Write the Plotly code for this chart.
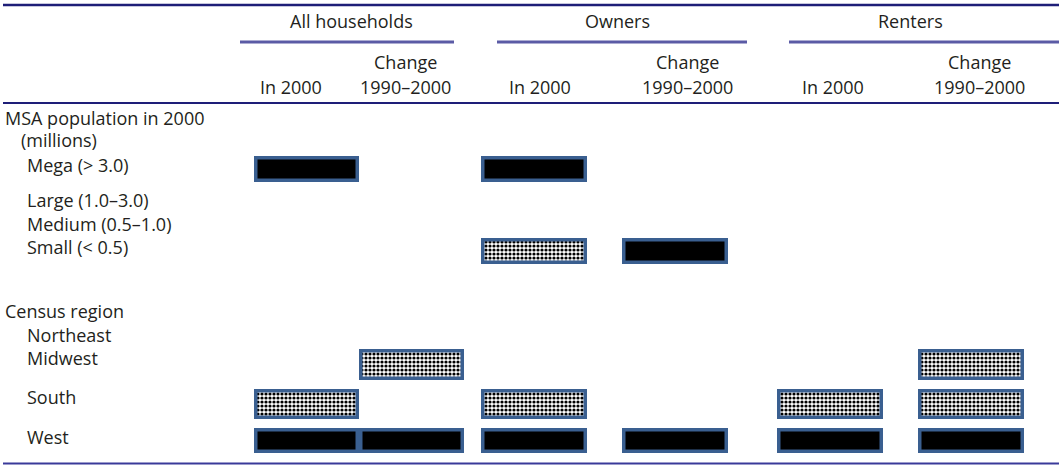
import plotly.graph_objects as go

# ---------------- data ----------------
groups = ["All households", "Owners", "Renters"]
subcols = ["In 2000", "Change\n1990–2000"]

row_labels = [
    "MSA population in 2000", "(millions)", "Mega (> 3.0)", "Large (1.0–3.0)",
    "Medium (0.5–1.0)", "Small (< 0.5)",
    "Census region", "Northeast", "Midwest", "South", "West",
]
# cell codes per row for the 6 columns: 0 = none, 1 = solid, 2 = checkered
cells = {
    "Mega (> 3.0)":     [1, 0, 1, 0, 0, 0],
    "Large (1.0–3.0)":  [0, 0, 0, 0, 0, 0],
    "Medium (0.5–1.0)": [0, 0, 0, 0, 0, 0],
    "Small (< 0.5)":    [0, 0, 2, 1, 0, 0],
    "Northeast":        [0, 0, 0, 0, 0, 0],
    "Midwest":          [0, 2, 0, 0, 0, 2],
    "South":            [2, 0, 2, 0, 2, 2],
    "West":             [1, 1, 1, 1, 1, 1],
}

# ---------------- layout (positions / styles) ----------------
W, H = 1059, 465
FONT = "Open Sans"
FS = 18
TXT = "#231f20"
label_pos = {  # x indent, y center
    "MSA population in 2000": (3, 118), "(millions)": (19, 140),
    "Mega (> 3.0)": (25, 165), "Large (1.0–3.0)": (25, 200),
    "Medium (0.5–1.0)": (25, 224), "Small (< 0.5)": (25, 247),
    "Census region": (3, 311), "Northeast": (25, 335), "Midwest": (25, 358),
    "South": (25, 397), "West": (25, 437),
}
bar_pos = {  # y center, thickness
    "Mega (> 3.0)": (169, 26), "Small (< 0.5)": (251, 26),
    "Midwest": (364.5, 31), "South": (404, 30), "West": (440.5, 25),
}
col_span = [(254, 359), (359, 464), (481, 587), (622, 728), (777, 883), (918, 1024)]
sub_text_x = [[291, 405], [540, 687], [833, 979]]
group_text_x = [351, 617, 910]
group_line = [(240, 454), (497, 747), (789, 1059)]
BORDER = "#3a5f90"
LW = 3.5

fig = go.Figure()

for code, name in [(1, "solid"), (2, "checkered")]:
    ys, bases, lens, widths = [], [], [], []
    for r, codes in cells.items():
        for ci, c in enumerate(codes):
            if c == code:
                yc, th = bar_pos[r]
                x0, x1 = col_span[ci]
                ys.append(yc)
                bases.append(x0 + LW / 2)
                lens.append(x1 - x0 - LW)
                widths.append(th - LW)
    marker = dict(line=dict(color=BORDER, width=LW))
    if code == 1:
        marker["color"] = "black"
    else:
        marker["color"] = "white"
        marker["pattern"] = dict(shape=".", fgcolor="black", bgcolor="white",
                                 size=4, solidity=0.5, fillmode="replace")
    fig.add_trace(go.Bar(orientation="h", y=ys, x=lens, base=bases, width=widths,
                         marker=marker, name=name, showlegend=False,
                         hoverinfo="skip"))

ann = []
for r in row_labels:
    x, y = label_pos[r]
    ann.append(dict(x=x, y=y, text=r, xanchor="left", yanchor="middle",
                    showarrow=False, font=dict(family=FONT, size=FS, color=TXT)))
for gi, g in enumerate(groups):
    ann.append(dict(x=group_text_x[gi], y=21, text=g, xanchor="center", yanchor="middle",
                    showarrow=False, font=dict(family=FONT, size=FS, color=TXT)))
    for si, s in enumerate(subcols):
        lines = s.split("\n")
        ys = [87] if len(lines) == 1 else [62, 87]
        for ln, yy in zip(lines, ys):
            ann.append(dict(x=sub_text_x[gi][si], y=yy, text=ln, xanchor="center",
                            yanchor="middle", showarrow=False,
                            font=dict(family=FONT, size=FS, color=TXT)))

shapes = [
    dict(type="line", x0=3, x1=W, y0=5, y1=5, xref="x", yref="y",
         line=dict(color="#1e1e78", width=2.5)),
    dict(type="line", x0=3, x1=W, y0=103, y1=103, xref="x", yref="y",
         line=dict(color="#1e1e78", width=2)),
    dict(type="line", x0=3, x1=W, y0=463.5, y1=463.5, xref="x", yref="y",
         line=dict(color="#3a3a9a", width=2)),
]
for x0, x1 in group_line:
    shapes.append(dict(type="line", x0=x0, x1=x1, y0=42, y1=42, xref="x", yref="y",
                       line=dict(color="#5b5ba5", width=3)))

fig.update_layout(
    width=W, height=H, margin=dict(l=0, r=0, t=0, b=0),
    paper_bgcolor="white", plot_bgcolor="white",
    xaxis=dict(range=[0, W], visible=False, fixedrange=True),
    yaxis=dict(range=[H, 0], visible=False, fixedrange=True),
    annotations=ann, shapes=shapes, barmode="overlay",
)
fig.write_html("out.html", config={"displayModeBar": False},
               post_script="document.body.style.margin='0px';document.body.style.overflow='hidden';")
